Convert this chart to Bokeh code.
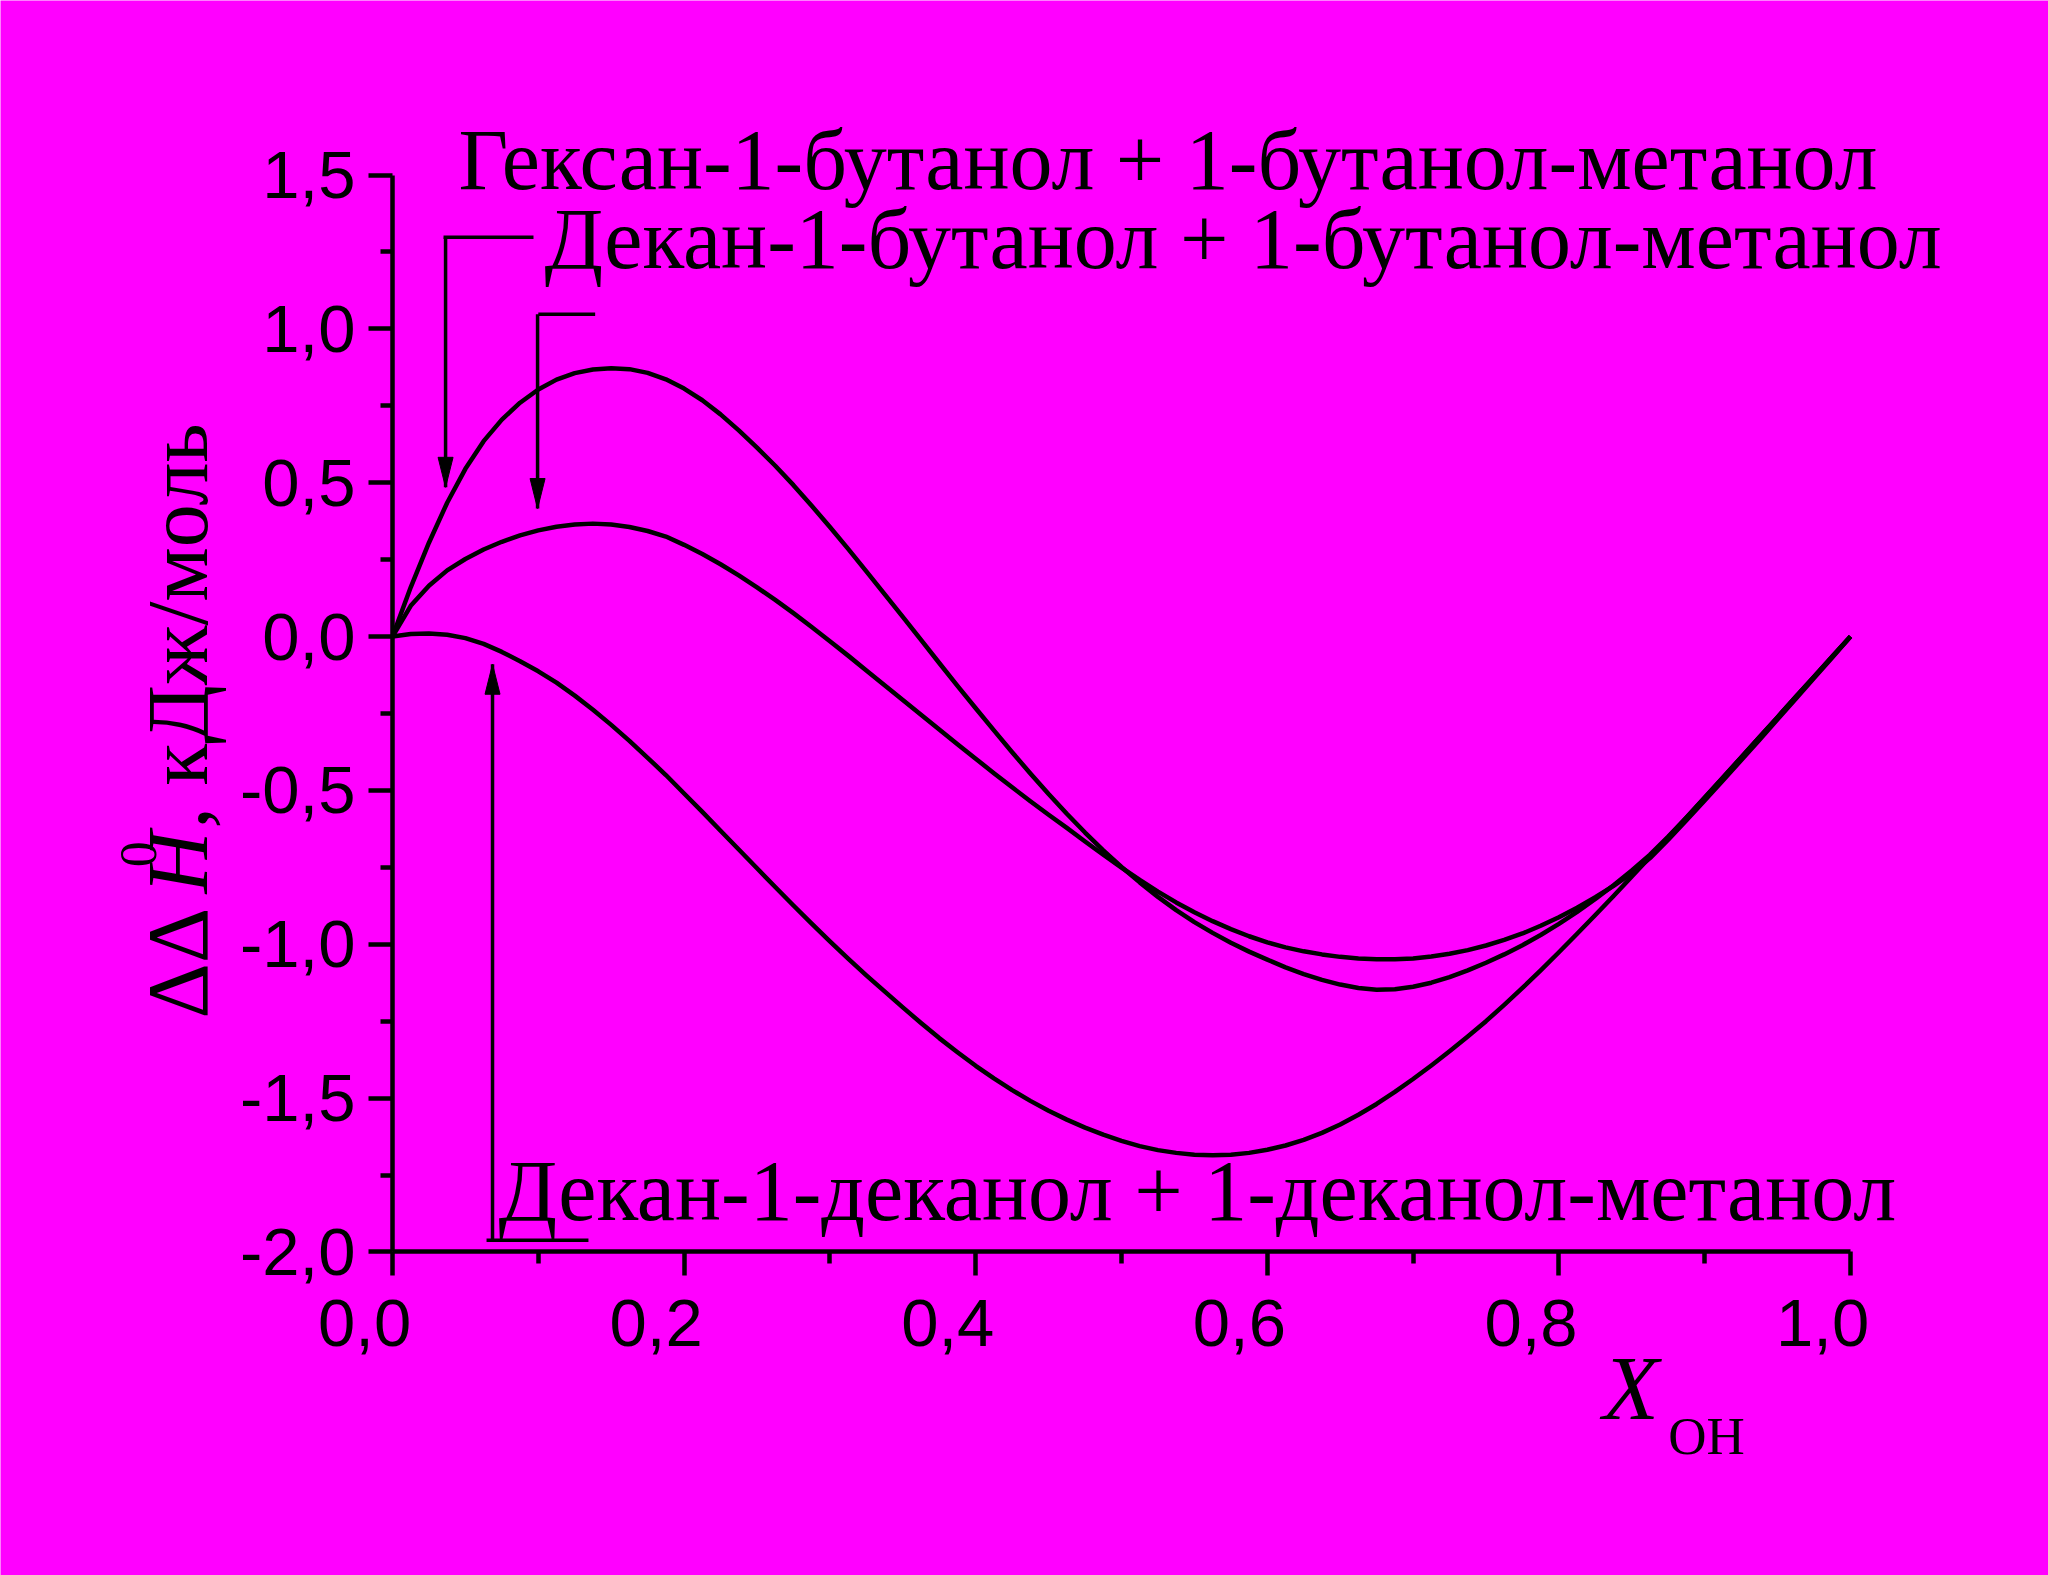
import math
from bokeh.plotting import figure
from bokeh.models import Range1d, FixedTicker, CustomJSTickFormatter, Label
from bokeh.embed import file_html
from bokeh.resources import INLINE

# ---------------- data ----------------
x_oh = [0.0000, 0.0125, 0.0250, 0.0375, 0.0500, 0.0625, 0.0750, 0.0875, 0.1000, 0.1125,
        0.1250, 0.1375, 0.1500, 0.1625, 0.1750, 0.1875, 0.2000, 0.2125, 0.2250, 0.2375,
        0.2500, 0.2625, 0.2750, 0.2875, 0.3000, 0.3125, 0.3250, 0.3375, 0.3500, 0.3625,
        0.3750, 0.3875, 0.4000, 0.4125, 0.4250, 0.4375, 0.4500, 0.4625, 0.4750, 0.4875,
        0.5000, 0.5125, 0.5250, 0.5375, 0.5500, 0.5625, 0.5750, 0.5875, 0.6000, 0.6125,
        0.6250, 0.6375, 0.6500, 0.6625, 0.6750, 0.6875, 0.7000, 0.7125, 0.7250, 0.7375,
        0.7500, 0.7625, 0.7750, 0.7875, 0.8000, 0.8125, 0.8250, 0.8375, 0.8500, 0.8625,
        0.8750, 0.8875, 0.9000, 0.9125, 0.9250, 0.9375, 0.9500, 0.9625, 0.9750, 0.9875,
        1.0000]

# Гексан-1-бутанол + 1-бутанол-метанол
dh_hexane_butanol = [0.000, 0.160, 0.305, 0.435, 0.545, 0.635, 0.705, 0.760, 0.803, 0.835,
                     0.856, 0.868, 0.872, 0.869, 0.857, 0.836, 0.806, 0.768, 0.722, 0.670,
                     0.614, 0.555, 0.492, 0.425, 0.356, 0.285, 0.212, 0.138, 0.064, -0.011,
                     -0.086, -0.160, -0.233, -0.305, -0.376, -0.445, -0.512, -0.576, -0.637, -0.695,
                     -0.749, -0.799, -0.846, -0.889, -0.928, -0.963, -0.995, -1.024, -1.050, -1.075,
                     -1.097, -1.116, -1.131, -1.142, -1.148, -1.146, -1.138, -1.125, -1.107, -1.085,
                     -1.060, -1.033, -1.003, -0.970, -0.934, -0.895, -0.853, -0.808, -0.760, -0.709,
                     -0.650, -0.588, -0.524, -0.459, -0.393, -0.327, -0.262, -0.196, -0.131, -0.065,
                     0.000]

# Декан-1-бутанол + 1-бутанол-метанол
dh_decane_butanol = [0.000, 0.100, 0.165, 0.215, 0.252, 0.283, 0.308, 0.329, 0.345, 0.357,
                     0.364, 0.367, 0.364, 0.356, 0.343, 0.325, 0.298, 0.268, 0.235, 0.199,
                     0.160, 0.119, 0.076, 0.031, -0.015, -0.062, -0.110, -0.158, -0.206, -0.254,
                     -0.302, -0.350, -0.397, -0.444, -0.490, -0.535, -0.579, -0.622, -0.666, -0.709,
                     -0.751, -0.791, -0.829, -0.864, -0.896, -0.925, -0.951, -0.974, -0.994, -1.010,
                     -1.023, -1.033, -1.041, -1.046, -1.049, -1.049, -1.046, -1.040, -1.031, -1.019,
                     -1.004, -0.986, -0.965, -0.940, -0.912, -0.881, -0.847, -0.810, -0.769, -0.720,
                     -0.660, -0.597, -0.533, -0.468, -0.402, -0.336, -0.269, -0.202, -0.135, -0.068,
                     0.000]

# Декан-1-деканол + 1-деканол-метанол
dh_decane_decanol = [0.000, 0.008, 0.010, 0.006, -0.005, -0.024, -0.050, -0.080, -0.113, -0.150,
                     -0.192, -0.238, -0.287, -0.339, -0.394, -0.450, -0.510, -0.570, -0.631, -0.692,
                     -0.753, -0.814, -0.874, -0.933, -0.991, -1.047, -1.101, -1.153, -1.205, -1.256,
                     -1.305, -1.351, -1.395, -1.436, -1.474, -1.509, -1.541, -1.570, -1.596, -1.619,
                     -1.639, -1.656, -1.669, -1.678, -1.684, -1.686, -1.684, -1.678, -1.668, -1.654,
                     -1.636, -1.613, -1.586, -1.554, -1.519, -1.480, -1.438, -1.394, -1.348, -1.300,
                     -1.250, -1.197, -1.142, -1.085, -1.026, -0.966, -0.905, -0.843, -0.780, -0.716,
                     -0.652, -0.588, -0.523, -0.458, -0.393, -0.327, -0.262, -0.196, -0.131, -0.065,
                     0.000]

x_ticks = [0.0, 0.2, 0.4, 0.6, 0.8, 1.0]
x_minor = [0.1, 0.3, 0.5, 0.7, 0.9]
y_ticks = [-2.0, -1.5, -1.0, -0.5, 0.0, 0.5, 1.0, 1.5]
y_minor = [-1.75, -1.25, -0.75, -0.25, 0.25, 0.75, 1.25]

series_labels = ["Гексан-1-бутанол + 1-бутанол-метанол",
                 "Декан-1-бутанол + 1-бутанол-метанол",
                 "Декан-1-деканол + 1-деканол-метанол"]
label_x = [0.0453, 0.1043, 0.0727]
label_y = [1.548, 1.291, -1.803]

# leader lines: vertical shaft (x, from, tip) and horizontal bar (x0, x1, y)
shaft_x = [0.0364, 0.0995, 0.0686]
shaft_from = [1.298, 1.0475, -1.962]
shaft_tip = [0.485, 0.416, -0.090]
bar_x0 = [0.035, 0.100, 0.0645]
bar_x1 = [0.0967, 0.139, 0.1344]
bar_y = [1.298, 1.0475, -1.962]

BG = "#FF00FF"
INK = "black"
SERIF = "Liberation Serif"
SANS = "Liberation Sans"

# ---------------- figure ----------------
# frame covers the whole canvas; axes are pinned at x=0 / y=-2
PX_PER_X = 1458.0
PX_PER_Y = 307.7
W, H = 2048, 1575
x0 = -392.0 / PX_PER_X
y1 = 1.5 + 174.5 / PX_PER_Y
p = figure(width=W, height=H, output_backend="svg", toolbar_location=None,
           x_range=Range1d(x0, x0 + W / PX_PER_X), y_range=Range1d(y1 - H / PX_PER_Y, y1),
           min_border=0, background_fill_color=BG, border_fill_color=BG,
           outline_line_color=None)
p.grid.visible = False

# x labels in the original sit a little left of their ticks -> trailing spaces
fmt_x = CustomJSTickFormatter(code="return tick.toFixed(1).replace('.', ',') + '\\u2002\\u2004';")
fmt_y = CustomJSTickFormatter(code="return tick.toFixed(1).replace('.', ',');")
for ax, tk, mn, sto, loc, bnd, fmt in ((p.xaxis[0], x_ticks, x_minor, 9, -2.0, (0.0, 1.0), fmt_x),
                                       (p.yaxis[0], y_ticks, y_minor, 13, 0.0, (-2.0, 1.5), fmt_y)):
    ax.fixed_location = loc
    ax.bounds = bnd
    ax.ticker = FixedTicker(ticks=tk, minor_ticks=mn)
    ax.formatter = fmt
    ax.axis_line_width = 4.5
    ax.axis_line_color = INK
    ax.major_tick_line_width = 4.5
    ax.minor_tick_line_width = 4.5
    ax.major_tick_line_color = INK
    ax.minor_tick_line_color = INK
    ax.major_tick_out = 24
    ax.major_tick_in = 0
    ax.minor_tick_out = 12
    ax.minor_tick_in = 0
    ax.major_label_text_font = SANS
    ax.major_label_text_font_size = "67px"
    ax.major_label_text_color = INK
    ax.major_label_standoff = sto

# curves
for ys in (dh_hexane_butanol, dh_decane_butanol, dh_decane_decanol):
    p.line(x_oh, ys, line_width=4.5, line_color=INK, line_join="round")

# leader lines
p.segment(x0=shaft_x, y0=shaft_from, x1=shaft_x, y1=shaft_tip, line_width=3.5, line_color=INK)
p.segment(x0=bar_x0, y0=bar_y, x1=bar_x1, y1=bar_y, line_width=3.5, line_color=INK)

# arrow heads (15 px wide, 30 px long)
hw = 7.5 / PX_PER_X
hl = 30.0 / PX_PER_Y
head_xs, head_ys = [], []
for sx, sf, st in zip(shaft_x, shaft_from, shaft_tip):
    d = 1 if sf > st else -1
    head_xs.append([sx, sx - hw, sx + hw])
    head_ys.append([st, st + d * hl, st + d * hl])
p.patches(head_xs, head_ys, fill_color=INK, line_color=INK, line_width=1)


def add_label(x, y, text, size, style="normal", angle=0.0):
    p.add_layout(Label(x=x, y=y, text=text, angle=angle, text_font=SERIF,
                       text_font_style=style, text_font_size=size, text_color=INK,
                       text_baseline="alphabetic", text_align="left"))


# series annotations
for t, lx, ly in zip(series_labels, label_x, label_y):
    add_label(lx, ly, t, "86px")

# y-axis title: ΔΔH⁰, кДж/моль (rotated)
rot = math.pi / 2
ylab_x = -0.1468
add_label(ylab_x, -1.241, "ΔΔ", "86px", angle=rot)
add_label(ylab_x, -0.835, "H", "86px", style="italic", angle=rot)
add_label(-0.1742, -0.750, "0", "52px", angle=rot)
add_label(ylab_x, -0.6236, ", кДж/моль", "86px", angle=rot)

# x-axis title: X_OH
add_label(0.830, -2.443, "X", "92px", style="italic")
add_label(0.875, -2.599, "OH", "53px")

open("out.html", "w").write(file_html(p, INLINE))
